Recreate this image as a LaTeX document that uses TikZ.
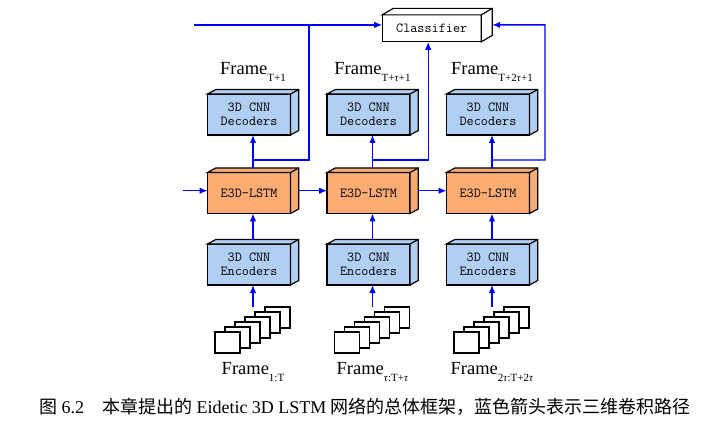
\documentclass[tikz,border=0pt]{standalone}
\usepackage{fontspec}
\setmainfont{Liberation Serif}
\newfontfamily\cjkfont{Noto Sans CJK SC}
\usetikzlibrary{arrows.meta, positioning, calc}

\definecolor{cnnblue}{RGB}{176,207,242}
\definecolor{lstmorange}{RGB}{250,172,115}

\newcommand{\framelabel}[1]{Frame\raisebox{-7pt}{\fontsize{11}{11}\selectfont #1}}

\begin{document}
\begin{tikzpicture}[
  x=1pt, y=1pt,
  node distance=37.5pt and 36.5pt,
  cube/.style={
    draw,
    line width=1.2pt,
    outer sep=0pt,
    inner sep=0pt,
    minimum width=83pt,
    minimum height=41pt,
    align=center,
    font=\fontsize{13.8}{14.4}\selectfont\ttfamily
  },
  cnn/.style={cube, fill=cnnblue},
  cell/.style={cube, fill=lstmorange},
  frm/.style={draw, line width=1.2pt, fill=white, minimum width=25pt, minimum height=21pt, inner sep=0pt, outer sep=0pt},
  lbl/.style={font=\fontsize{18.5}{22}\selectfont, inner sep=0pt, anchor=base},
  flow/.style={draw=blue, line width=1.3pt},
  >={Latex[length=8pt,width=6.5pt]}
]
\useasboundingbox (0,0) rectangle (712,-422);

% Middle row
\node[cell] (lstm1) at (249,-193) {E3D-LSTM};
\node[cell, right=of lstm1] (lstm2) {E3D-LSTM};
\node[cell, right=of lstm2] (lstm3) {E3D-LSTM};

% Decoders and encoders
\foreach \i in {1,2,3} {
  \node[cnn, above=of lstm\i] (dec\i) {3D CNN\\Decoders};
  \node[cnn, below=30.5pt of lstm\i] (enc\i) {3D CNN\\Encoders};
}

% Classifier
\node[cube, fill=white, minimum width=99pt, minimum height=27pt] (cls) at (431.7,-28.4) {Classifier};

% Depth faces
\foreach \n/\c/\dx/\dy in {dec1/cnnblue/8.3/4.5, dec2/cnnblue/8.3/4.5, dec3/cnnblue/8.3/4.5,
    lstm1/lstmorange/8.3/4.5, lstm2/lstmorange/8.3/4.5, lstm3/lstmorange/8.3/4.5,
    enc1/cnnblue/8.3/4.5, enc2/cnnblue/8.3/4.5, enc3/cnnblue/8.3/4.5, cls/white/11/6.5} {
  \draw[line width=1.2pt, fill=\c] (\n.north west) -- ++(\dx,\dy) -- ($(\n.north east)+(\dx,\dy)$)
    -- ($(\n.south east)+(\dx,\dy)$) -- (\n.south east) -- (\n.north east) -- cycle;
  \draw[line width=1.2pt] (\n.north east) -- ++(\dx,\dy);
}

% Input frame stacks
\foreach \i in {1,2,3}
  \foreach \k in {5,...,0}
    \node[frm] (s\i-\k) at ($(enc\i.center)+(-21.5+10*\k,-78+5*\k)$) {};

% Frame labels
\foreach \i/\t/\b in {1/{T+1}/{1:T},
    2/{T+\textit{τ}+1}/{\textit{τ}:T+\textit{τ}},
    3/{T+2\textit{τ}+1}/{2\textit{τ}:T+2\textit{τ}}} {
  \node[lbl] (out\i) at ([xshift=4pt,yshift=19pt]dec\i.north) {\framelabel{\t}};
  \node[lbl] (in\i) at ([xshift=4pt,yshift=-89pt]enc\i.south) {\framelabel{\b}};
}

% Arrows
\coordinate (topin) at (194,-24.9);
\coordinate (cellin) at (183,-190.75);
\draw[flow,->] (topin) -- ([yshift=3.5pt]cls.west);
\draw[flow,->] (cellin) -- ([yshift=2.25pt]lstm1.west);
\draw[flow,->] ([xshift=8.3pt,yshift=2.25pt]lstm1.east) -- ([yshift=2.25pt]lstm2.west);
\draw[flow,->] ([xshift=8.3pt,yshift=2.25pt]lstm2.east) -- ([yshift=2.25pt]lstm3.west);

\foreach \i in {1,2,3} {
  \draw[flow,->] ([xshift=4pt,yshift=-22pt]enc\i.south) -- ([xshift=4pt]enc\i.south);
  \draw[flow,->] ([xshift=4pt,yshift=4.5pt]enc\i.north) -- ([xshift=4pt]lstm\i.south);
  \draw[flow,->] ([xshift=4pt,yshift=4.5pt]lstm\i.north) -- ([xshift=4pt]dec\i.south);
  \coordinate (br\i) at ($([xshift=4pt]dec\i.south)!0.76!([xshift=4pt,yshift=4.5pt]lstm\i.north)$);
}
\coordinate (j1) at (309,-24.9);
\coordinate (j3) at (545,-160);
\draw[flow] (br1) -| (j1);
\draw[flow,->] (br2) -| ([xshift=-3.5pt]cls.south);
\draw[flow,->] (br3) -- (j3) |- ([xshift=11pt,yshift=3.5pt]cls.east);

% Caption
\node[anchor=base, font=\fontsize{18}{20}\selectfont, inner sep=0pt] (cap) at (365,-413.5)
  {{\cjkfont 图} 6.2\hspace{1em}{\cjkfont 本章提出的} Eidetic 3D LSTM {\cjkfont 网络的总体框架，蓝色箭头表示三维卷积路径}};

\end{tikzpicture}
\end{document}
